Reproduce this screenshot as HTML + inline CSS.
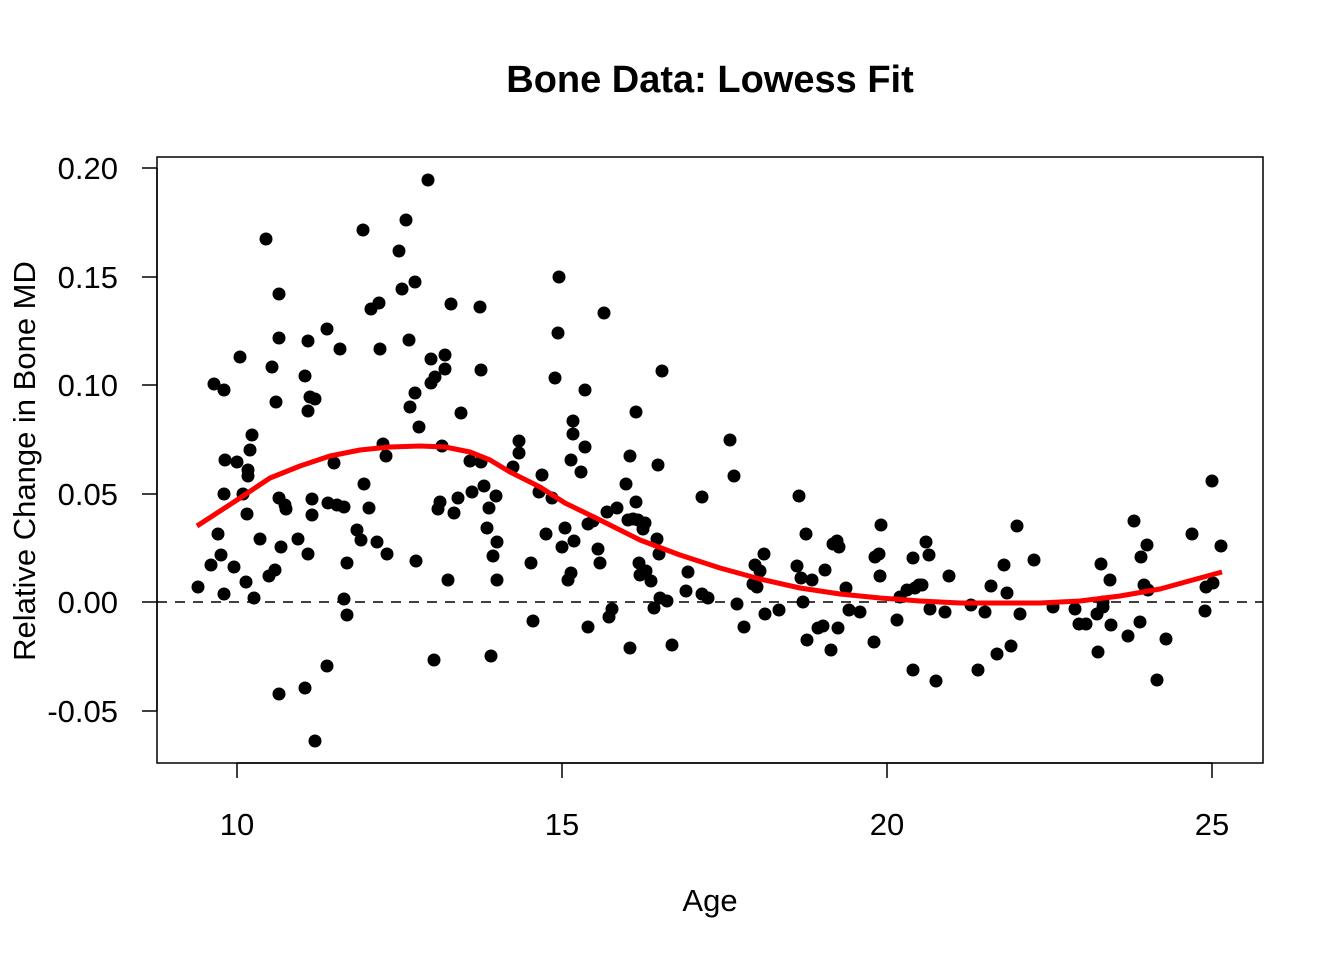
<!DOCTYPE html>
<html><head><meta charset="utf-8"><style>body{margin:0;background:#fff}svg{display:block}</style></head><body>
<svg width="1344" height="960" xmlns="http://www.w3.org/2000/svg" font-family="Liberation Sans, Arial, sans-serif">
<rect width="1344" height="960" fill="#fff"/>
<text x="710" y="92" font-size="38" font-weight="bold" text-anchor="middle">Bone Data: Lowess Fit</text>
<rect x="157" y="157" width="1106" height="606" fill="none" stroke="#000" stroke-width="1.5"/>
<g stroke="#000" stroke-width="1.5">
<line x1="237" y1="763" x2="1212" y2="763"/>
<line x1="237" y1="763" x2="237" y2="778"/><line x1="562" y1="763" x2="562" y2="778"/><line x1="887" y1="763" x2="887" y2="778"/><line x1="1212" y1="763" x2="1212" y2="778"/>
<line x1="157" y1="168" x2="157" y2="711"/>
<line x1="142" y1="168" x2="157" y2="168"/><line x1="142" y1="277" x2="157" y2="277"/><line x1="142" y1="385" x2="157" y2="385"/><line x1="142" y1="494" x2="157" y2="494"/><line x1="142" y1="602" x2="157" y2="602"/><line x1="142" y1="711" x2="157" y2="711"/>
</g>
<g font-size="31" text-anchor="middle">
<text x="237" y="835">10</text><text x="562" y="835">15</text><text x="887" y="835">20</text><text x="1212" y="835">25</text>
<text x="710" y="911">Age</text>
</g>
<g font-size="31" text-anchor="end">
<text x="118" y="179">0.20</text><text x="118" y="288">0.15</text><text x="118" y="396">0.10</text><text x="118" y="505">0.05</text><text x="118" y="613">0.00</text><text x="118" y="722">-0.05</text>
</g>
<text transform="translate(35,461) rotate(-90)" font-size="31" text-anchor="middle">Relative Change in Bone MD</text>
<line x1="157" y1="602" x2="1263" y2="602" stroke="#000" stroke-width="1.5" stroke-dasharray="10,8"/>
<g fill="#000">
<circle cx="198" cy="587" r="6.5"/><circle cx="211" cy="565" r="6.5"/><circle cx="214" cy="384" r="6.5"/><circle cx="218" cy="534" r="6.5"/><circle cx="221" cy="555" r="6.5"/><circle cx="224" cy="594" r="6.5"/><circle cx="224" cy="390" r="6.5"/><circle cx="224" cy="494" r="6.5"/><circle cx="225" cy="460" r="6.5"/><circle cx="234" cy="567" r="6.5"/><circle cx="237" cy="462" r="6.5"/><circle cx="240" cy="357" r="6.5"/><circle cx="243" cy="494" r="6.5"/><circle cx="246" cy="582" r="6.5"/><circle cx="247" cy="514" r="6.5"/><circle cx="248" cy="470" r="6.5"/><circle cx="248" cy="476" r="6.5"/><circle cx="250" cy="450" r="6.5"/><circle cx="252" cy="435" r="6.5"/><circle cx="254" cy="598" r="6.5"/><circle cx="260" cy="539" r="6.5"/><circle cx="266" cy="239" r="6.5"/><circle cx="269" cy="576" r="6.5"/><circle cx="272" cy="367" r="6.5"/><circle cx="275" cy="570" r="6.5"/><circle cx="276" cy="402" r="6.5"/><circle cx="279" cy="294" r="6.5"/><circle cx="279" cy="338" r="6.5"/><circle cx="279" cy="498" r="6.5"/><circle cx="279" cy="694" r="6.5"/><circle cx="281" cy="547" r="6.5"/><circle cx="285" cy="505" r="6.5"/><circle cx="286" cy="509" r="6.5"/><circle cx="298" cy="539" r="6.5"/><circle cx="305" cy="376" r="6.5"/><circle cx="305" cy="688" r="6.5"/><circle cx="308" cy="554" r="6.5"/><circle cx="308" cy="411" r="6.5"/><circle cx="308" cy="341" r="6.5"/><circle cx="310" cy="397" r="6.5"/><circle cx="312" cy="515" r="6.5"/><circle cx="312" cy="499" r="6.5"/><circle cx="315" cy="399" r="6.5"/><circle cx="315" cy="741" r="6.5"/><circle cx="327" cy="329" r="6.5"/><circle cx="327" cy="666" r="6.5"/><circle cx="328" cy="503" r="6.5"/><circle cx="334" cy="463" r="6.5"/><circle cx="337" cy="505" r="6.5"/><circle cx="340" cy="349" r="6.5"/><circle cx="344" cy="507" r="6.5"/><circle cx="344" cy="599" r="6.5"/><circle cx="347" cy="563" r="6.5"/><circle cx="347" cy="615" r="6.5"/><circle cx="357" cy="530" r="6.5"/><circle cx="361" cy="540" r="6.5"/><circle cx="363" cy="230" r="6.5"/><circle cx="364" cy="484" r="6.5"/><circle cx="369" cy="508" r="6.5"/><circle cx="371" cy="309" r="6.5"/><circle cx="377" cy="542" r="6.5"/><circle cx="379" cy="303" r="6.5"/><circle cx="380" cy="349" r="6.5"/><circle cx="383" cy="444" r="6.5"/><circle cx="386" cy="456" r="6.5"/><circle cx="387" cy="554" r="6.5"/><circle cx="399" cy="251" r="6.5"/><circle cx="402" cy="289" r="6.5"/><circle cx="406" cy="220" r="6.5"/><circle cx="409" cy="340" r="6.5"/><circle cx="410" cy="407" r="6.5"/><circle cx="415" cy="282" r="6.5"/><circle cx="415" cy="393" r="6.5"/><circle cx="416" cy="561" r="6.5"/><circle cx="419" cy="427" r="6.5"/><circle cx="428" cy="180" r="6.5"/><circle cx="431" cy="359" r="6.5"/><circle cx="431" cy="383" r="6.5"/><circle cx="434" cy="660" r="6.5"/><circle cx="435" cy="377" r="6.5"/><circle cx="438" cy="509" r="6.5"/><circle cx="440" cy="502" r="6.5"/><circle cx="442" cy="446" r="6.5"/><circle cx="445" cy="355" r="6.5"/><circle cx="445" cy="369" r="6.5"/><circle cx="448" cy="580" r="6.5"/><circle cx="451" cy="304" r="6.5"/><circle cx="454" cy="513" r="6.5"/><circle cx="458" cy="498" r="6.5"/><circle cx="461" cy="413" r="6.5"/><circle cx="470" cy="461" r="6.5"/><circle cx="472" cy="492" r="6.5"/><circle cx="480" cy="307" r="6.5"/><circle cx="481" cy="462" r="6.5"/><circle cx="481" cy="370" r="6.5"/><circle cx="484" cy="486" r="6.5"/><circle cx="487" cy="528" r="6.5"/><circle cx="489" cy="508" r="6.5"/><circle cx="491" cy="656" r="6.5"/><circle cx="493" cy="556" r="6.5"/><circle cx="496" cy="496" r="6.5"/><circle cx="497" cy="542" r="6.5"/><circle cx="497" cy="580" r="6.5"/><circle cx="513" cy="467" r="6.5"/><circle cx="519" cy="441" r="6.5"/><circle cx="519" cy="453" r="6.5"/><circle cx="531" cy="563" r="6.5"/><circle cx="533" cy="621" r="6.5"/><circle cx="539" cy="492" r="6.5"/><circle cx="542" cy="475" r="6.5"/><circle cx="546" cy="534" r="6.5"/><circle cx="552" cy="498" r="6.5"/><circle cx="555" cy="378" r="6.5"/><circle cx="558" cy="333" r="6.5"/><circle cx="559" cy="277" r="6.5"/><circle cx="562" cy="547" r="6.5"/><circle cx="565" cy="528" r="6.5"/><circle cx="568" cy="580" r="6.5"/><circle cx="571" cy="573" r="6.5"/><circle cx="571" cy="460" r="6.5"/><circle cx="573" cy="421" r="6.5"/><circle cx="573" cy="434" r="6.5"/><circle cx="574" cy="541" r="6.5"/><circle cx="581" cy="472" r="6.5"/><circle cx="585" cy="447" r="6.5"/><circle cx="585" cy="390" r="6.5"/><circle cx="588" cy="524" r="6.5"/><circle cx="588" cy="627" r="6.5"/><circle cx="593" cy="521" r="6.5"/><circle cx="598" cy="549" r="6.5"/><circle cx="600" cy="563" r="6.5"/><circle cx="604" cy="313" r="6.5"/><circle cx="607" cy="512" r="6.5"/><circle cx="609" cy="617" r="6.5"/><circle cx="612" cy="609" r="6.5"/><circle cx="617" cy="508" r="6.5"/><circle cx="626" cy="484" r="6.5"/><circle cx="628" cy="520" r="6.5"/><circle cx="630" cy="456" r="6.5"/><circle cx="630" cy="648" r="6.5"/><circle cx="633" cy="519" r="6.5"/><circle cx="636" cy="502" r="6.5"/><circle cx="636" cy="412" r="6.5"/><circle cx="638" cy="520" r="6.5"/><circle cx="639" cy="563" r="6.5"/><circle cx="640" cy="575" r="6.5"/><circle cx="643" cy="529" r="6.5"/><circle cx="645" cy="523" r="6.5"/><circle cx="646" cy="571" r="6.5"/><circle cx="651" cy="581" r="6.5"/><circle cx="654" cy="608" r="6.5"/><circle cx="657" cy="539" r="6.5"/><circle cx="658" cy="465" r="6.5"/><circle cx="659" cy="554" r="6.5"/><circle cx="660" cy="598" r="6.5"/><circle cx="662" cy="371" r="6.5"/><circle cx="667" cy="601" r="6.5"/><circle cx="672" cy="645" r="6.5"/><circle cx="686" cy="591" r="6.5"/><circle cx="688" cy="572" r="6.5"/><circle cx="702" cy="497" r="6.5"/><circle cx="702" cy="594" r="6.5"/><circle cx="708" cy="598" r="6.5"/><circle cx="730" cy="440" r="6.5"/><circle cx="734" cy="476" r="6.5"/><circle cx="737" cy="604" r="6.5"/><circle cx="744" cy="627" r="6.5"/><circle cx="753" cy="584" r="6.5"/><circle cx="755" cy="565" r="6.5"/><circle cx="757" cy="587" r="6.5"/><circle cx="760" cy="571" r="6.5"/><circle cx="764" cy="554" r="6.5"/><circle cx="765" cy="614" r="6.5"/><circle cx="779" cy="610" r="6.5"/><circle cx="797" cy="566" r="6.5"/><circle cx="799" cy="496" r="6.5"/><circle cx="801" cy="578" r="6.5"/><circle cx="803" cy="602" r="6.5"/><circle cx="806" cy="534" r="6.5"/><circle cx="807" cy="640" r="6.5"/><circle cx="812" cy="580" r="6.5"/><circle cx="818" cy="628" r="6.5"/><circle cx="823" cy="626" r="6.5"/><circle cx="825" cy="570" r="6.5"/><circle cx="831" cy="650" r="6.5"/><circle cx="833" cy="544" r="6.5"/><circle cx="837" cy="541" r="6.5"/><circle cx="838" cy="628" r="6.5"/><circle cx="839" cy="547" r="6.5"/><circle cx="846" cy="588" r="6.5"/><circle cx="849" cy="610" r="6.5"/><circle cx="860" cy="612" r="6.5"/><circle cx="874" cy="642" r="6.5"/><circle cx="875" cy="557" r="6.5"/><circle cx="879" cy="554" r="6.5"/><circle cx="880" cy="576" r="6.5"/><circle cx="881" cy="525" r="6.5"/><circle cx="897" cy="620" r="6.5"/><circle cx="900" cy="597" r="6.5"/><circle cx="907" cy="590" r="6.5"/><circle cx="913" cy="670" r="6.5"/><circle cx="913" cy="558" r="6.5"/><circle cx="915" cy="588" r="6.5"/><circle cx="919" cy="585" r="6.5"/><circle cx="922" cy="585" r="6.5"/><circle cx="926" cy="542" r="6.5"/><circle cx="929" cy="555" r="6.5"/><circle cx="930" cy="609" r="6.5"/><circle cx="936" cy="681" r="6.5"/><circle cx="945" cy="612" r="6.5"/><circle cx="949" cy="576" r="6.5"/><circle cx="971" cy="605" r="6.5"/><circle cx="978" cy="670" r="6.5"/><circle cx="985" cy="612" r="6.5"/><circle cx="991" cy="586" r="6.5"/><circle cx="997" cy="654" r="6.5"/><circle cx="1004" cy="565" r="6.5"/><circle cx="1007" cy="593" r="6.5"/><circle cx="1011" cy="646" r="6.5"/><circle cx="1017" cy="526" r="6.5"/><circle cx="1020" cy="614" r="6.5"/><circle cx="1034" cy="560" r="6.5"/><circle cx="1053" cy="607" r="6.5"/><circle cx="1075" cy="609" r="6.5"/><circle cx="1079" cy="624" r="6.5"/><circle cx="1086" cy="624" r="6.5"/><circle cx="1097" cy="614" r="6.5"/><circle cx="1098" cy="652" r="6.5"/><circle cx="1101" cy="564" r="6.5"/><circle cx="1103" cy="602" r="6.5"/><circle cx="1103" cy="607" r="6.5"/><circle cx="1110" cy="580" r="6.5"/><circle cx="1111" cy="625" r="6.5"/><circle cx="1128" cy="636" r="6.5"/><circle cx="1134" cy="521" r="6.5"/><circle cx="1141" cy="557" r="6.5"/><circle cx="1144" cy="585" r="6.5"/><circle cx="1147" cy="545" r="6.5"/><circle cx="1148" cy="590" r="6.5"/><circle cx="1140" cy="622" r="6.5"/><circle cx="1157" cy="680" r="6.5"/><circle cx="1166" cy="639" r="6.5"/><circle cx="1192" cy="534" r="6.5"/><circle cx="1205" cy="611" r="6.5"/><circle cx="1206" cy="587" r="6.5"/><circle cx="1212" cy="481" r="6.5"/><circle cx="1213" cy="583" r="6.5"/><circle cx="1221" cy="546" r="6.5"/>
</g>
<polyline fill="none" stroke="#f00" stroke-width="5" stroke-linejoin="round" points="197,526 237,500 270,478 300,466 330,456 360,450 390,447 420,446 445,447 470,452 490,460 510,472 540,487 565,503 600,520 640,540 680,555 720,568 760,579 800,588 840,594 880,598 920,601 960,603 1000,603 1040,603 1080,601 1120,596 1160,589 1200,578 1222,572"/>
</svg>
</body></html>
